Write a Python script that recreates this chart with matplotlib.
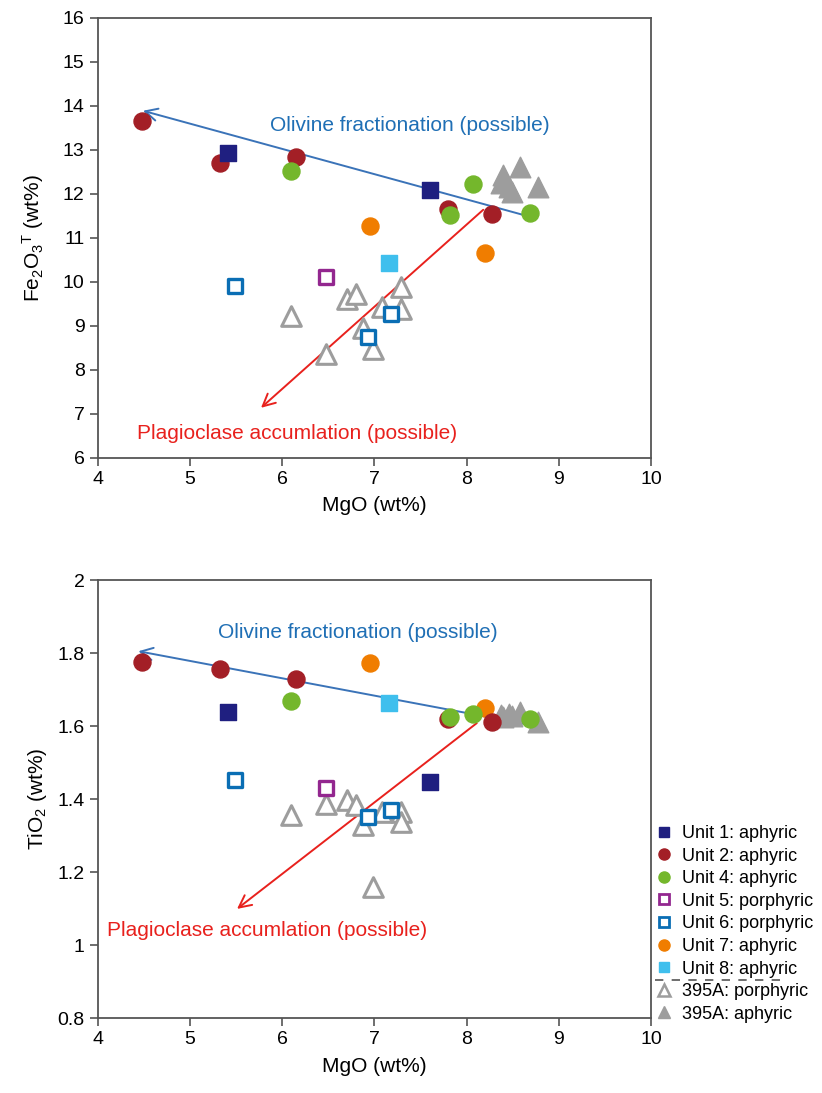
import matplotlib
matplotlib.use('Agg')
import matplotlib.pyplot as plt
from matplotlib.lines import Line2D

plt.rcParams['font.family'] = ['Liberation Sans', 'DejaVu Sans']
plt.rcParams['mathtext.fontset'] = 'custom'
plt.rcParams['mathtext.rm'] = 'Liberation Sans'
plt.rcParams['mathtext.it'] = 'Liberation Sans:italic'

# данные: MgO, Fe2O3T, TiO2 для каждой группы
u1_mgo = [5.41, 7.60]
u1_fe = [12.93, 12.09]
u1_ti = [1.638, 1.447]

u2_mgo = [4.48, 5.32, 6.15, 7.80, 8.28]
u2_fe = [13.66, 12.70, 12.84, 11.66, 11.55]
u2_ti = [1.775, 1.756, 1.729, 1.620, 1.610]

u4_mgo = [6.09, 7.82, 8.07, 8.69]
u4_fe = [12.52, 11.52, 12.23, 11.57]
u4_ti = [1.669, 1.625, 1.633, 1.620]

u5_mgo = [6.47]
u5_fe = [10.11]
u5_ti = [1.430]

u6_mgo = [5.49, 6.93, 7.18]
u6_fe = [9.91, 8.75, 9.27]
u6_ti = [1.452, 1.351, 1.370]

u7_mgo = [6.95, 8.20]
u7_fe = [11.27, 10.66]
u7_ti = [1.773, 1.650]

u8_mgo = [7.16]
u8_fe = [10.43]
u8_ti = [1.663]

p395_mgo = [6.10, 6.48, 6.70, 6.80, 6.88, 6.98, 7.08, 7.29, 7.29]
p395_fe = [9.23, 8.36, 9.61, 9.73, 8.95, 8.48, 9.43, 9.89, 9.39]
p395_ti = [1.356, 1.386, 1.397, 1.385, 1.329, 1.159, 1.364, 1.364, 1.337]

a395_mgo = [8.39, 8.58, 8.37, 8.46, 8.49, 8.77]
a395_fe = [12.43, 12.61, 12.25, 12.16, 12.05, 12.16]
a395_ti = [1.625, 1.638, 1.630, 1.633, 1.628, 1.612]

# линии трендов (начало -> конец со стрелкой)
ol_fe = [(8.69, 11.48), (4.49, 13.89)]
pl_fe = [(8.18, 11.64), (5.77, 7.14)]
ol_ti = [(8.69, 1.603), (4.44, 1.805)]
pl_ti = [(8.11, 1.608), (5.51, 1.099)]

navy = '#1f1f80'
red = '#a31f26'
green = '#74b72c'
purple = '#93278f'
blue = '#0a6eb4'
orange = '#f07d00'
cyan = '#3fbfed'
grey = '#9d9d9d'
ol_col = '#3a73b8'
ol_txt = '#1f6fb5'
pl_col = '#e8211d'

fig = plt.figure(figsize=(8.22, 10.93), dpi=100)
ax1 = fig.add_axes([0.119, 0.581, 0.673, 0.4026])
ax2 = fig.add_axes([0.119, 0.0686, 0.673, 0.4007])


def draw(ax, col, ol, pl):
    ax.scatter(p395_mgo, col['p395'], marker='^', s=200, facecolors='white',
               edgecolors=grey, linewidths=2.2, zorder=3)
    ax.scatter(u6_mgo, col['u6'], marker='s', s=110, facecolors='white',
               edgecolors=blue, linewidths=2.4, zorder=4)
    ax.scatter(u5_mgo, col['u5'], marker='s', s=110, facecolors='white',
               edgecolors=purple, linewidths=2.4, zorder=4)
    ax.annotate('', xy=ol[1], xytext=ol[0],
                arrowprops=dict(arrowstyle='->', color=ol_col, lw=1.4, mutation_scale=22,
                                shrinkA=0, shrinkB=0), zorder=2)
    ax.annotate('', xy=pl[1], xytext=pl[0],
                arrowprops=dict(arrowstyle='->', color=pl_col, lw=1.4, mutation_scale=22,
                                shrinkA=0, shrinkB=0), zorder=2)
    ax.scatter(a395_mgo, col['a395'], marker='^', s=220, color=grey, zorder=3)
    ax.scatter(u8_mgo, col['u8'], marker='s', s=130, color=cyan, zorder=5)
    ax.scatter(u7_mgo, col['u7'], marker='o', s=150, color=orange, zorder=5)
    ax.scatter(u2_mgo, col['u2'], marker='o', s=150, color=red, zorder=5)
    ax.scatter(u4_mgo, col['u4'], marker='o', s=150, color=green, zorder=6)
    ax.scatter(u1_mgo, col['u1'], marker='s', s=130, color=navy, zorder=5)

    ax.set_xlim(4, 10)
    ax.set_xlabel('MgO (wt%)', fontsize=15, labelpad=6)
    for s in ax.spines.values():
        s.set_color('#555555')
        s.set_linewidth(1.3)
    ax.tick_params(direction='out', length=6, width=1.2, color='#555555',
                   labelsize=14, top=False, right=False)


draw(ax1, dict(u1=u1_fe, u2=u2_fe, u4=u4_fe, u5=u5_fe, u6=u6_fe, u7=u7_fe, u8=u8_fe,
               p395=p395_fe, a395=a395_fe), ol_fe, pl_fe)
ax1.set_ylim(6, 16)
ax1.set_yticks(range(6, 17))
ax1.set_ylabel(r'Fe$_2$O$_3$$^{\mathrm{T}}$ (wt%)', fontsize=15, labelpad=12)
ax1.text(7.38, 13.55, 'Olivine fractionation (possible)', color=ol_txt, fontsize=15,
         ha='center', va='center')
ax1.text(6.16, 6.55, 'Plagioclase accumlation (possible)', color=pl_col, fontsize=15,
         ha='center', va='center')

draw(ax2, dict(u1=u1_ti, u2=u2_ti, u4=u4_ti, u5=u5_ti, u6=u6_ti, u7=u7_ti, u8=u8_ti,
               p395=p395_ti, a395=a395_ti), ol_ti, pl_ti)
ax2.set_ylim(0.8, 2)
ax2.set_yticks([0.8, 1, 1.2, 1.4, 1.6, 1.8, 2])
ax2.set_yticklabels(['0.8', '1', '1.2', '1.4', '1.6', '1.8', '2'])
ax2.set_ylabel(r'TiO$_2$ (wt%)', fontsize=15, labelpad=6)
ax2.text(6.82, 1.855, 'Olivine fractionation (possible)', color=ol_txt, fontsize=15,
         ha='center', va='center')
ax2.text(5.84, 1.041, 'Plagioclase accumlation (possible)', color=pl_col, fontsize=15,
         ha='center', va='center')

# легенда
labels = ['Unit 1: aphyric', 'Unit 2: aphyric', 'Unit 4: aphyric', 'Unit 5: porphyric',
          'Unit 6: porphyric', 'Unit 7: aphyric', 'Unit 8: aphyric',
          '395A: porphyric', '395A: aphyric']
handles = [
    Line2D([], [], ls='none', marker='s', ms=7, color=navy),
    Line2D([], [], ls='none', marker='o', ms=8, color=red),
    Line2D([], [], ls='none', marker='o', ms=8, color=green),
    Line2D([], [], ls='none', marker='s', ms=6.5, mfc='white', mec=purple, mew=2),
    Line2D([], [], ls='none', marker='s', ms=6.5, mfc='white', mec=blue, mew=2),
    Line2D([], [], ls='none', marker='o', ms=8, color=orange),
    Line2D([], [], ls='none', marker='s', ms=7, color=cyan),
    Line2D([], [], ls='none', marker='^', ms=8, mfc='white', mec=grey, mew=1.8),
    Line2D([], [], ls='none', marker='^', ms=8.5, color=grey),
]
fig.legend(handles, labels, loc='upper left', bbox_to_anchor=(657 / 822, 1 - 825 / 1093),
           frameon=False, fontsize=13, borderpad=0, borderaxespad=0, handlelength=0.8,
           handletextpad=0.6, labelspacing=0.31)
fig.add_artist(Line2D([655 / 822, 785 / 822], [1 - 980 / 1093, 1 - 980 / 1093],
                      transform=fig.transFigure, color='#555555', lw=1.2,
                      dashes=(5, 5)))

plt.savefig('out.png', dpi=100)
